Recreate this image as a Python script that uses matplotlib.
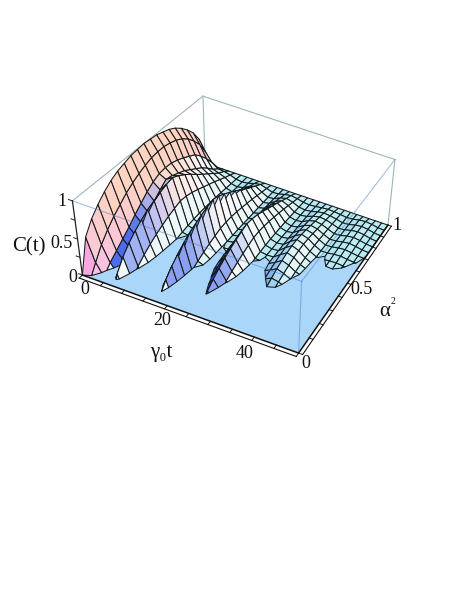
import numpy as np
import matplotlib
matplotlib.use("Agg")
import matplotlib.pyplot as plt
from mpl_toolkits.mplot3d.art3d import Poly3DCollection

plt.rcParams['font.family'] = ['Liberation Serif', 'DejaVu Serif']

t_values = np.arange(31) * 5 / 3
alpha2_values = np.arange(21) * 0.05

# C(t), one list per t, from alpha^2 = 0 up to 1.
# negative numbers stand for the dead part, the surface is cut there at C = 0
valley = [-.03,-.029,-.023,-.019,-.015,-.012,-.009,-.006,-.004,-.002,.001,.002,.004,.005,.004,.004,.004,.003,.002,.001,0]
C_t00 = [0,.44,.60,.71,.80,.87,.92,.95,.98,.99,1,.99,.98,.95,.92,.87,.80,.71,.60,.44,0]
C_t02 = [-.05,.12,.28,.40,.50,.58,.66,.72,.77,.81,.84,.85,.85,.83,.80,.75,.68,.58,.46,.28,0]
C_t03 = [-.2,-.05,.06,.14,.22,.30,.39,.47,.55,.61,.65,.66,.65,.62,.58,.53,.48,.39,.28,.15,0]
C_t05 = [-.3,-.19,-.07,.02,.12,.20,.29,.37,.45,.53,.60,.58,.54,.50,.44,.38,.32,.24,.15,.08,0]
C_t07 = [-.3,.06,.21,.32,.40,.47,.53,.57,.61,.64,.66,.61,.55,.48,.40,.33,.26,.19,.12,.07,0]
C_t08 = [-.3,-.19,-.07,.02,.096,.16,.214,.26,.30,.332,.36,.35,.325,.29,.25,.21,.173,.128,.084,.048,0]
C_t10 = [-.3,-.2,-.158,-.122,-.092,-.066,-.042,-.02,-.001,.017,.032,.042,.048,.049,.047,.043,.038,.03,.021,.013,0]
C_t12 = valley
C_t13 = [-.3,-.217,-.168,-.129,-.096,-.067,-.041,-.017,.004,.023,.04,.05,.056,.057,.054,.049,.043,.034,.024,.014,0]
C_t15 = [-.3,-.237,-.123,-.037,.035,.095,.147,.192,.231,.264,.292,.288,.271,.246,.214,.182,.15,.112,.074,.042,0]
C_t17 = [-.3,-.043,.098,.2,.28,.35,.41,.45,.49,.52,.545,.515,.465,.41,.35,.29,.23,.17,.11,.06,0]
C_t18 = [-.3,-.28,-.192,-.122,-.064,-.014,.03,.07,.104,.134,.16,.167,.164,.154,.138,.12,.10,.077,.052,.03,0]
C_t20 = valley
C_t22 = [-.2,-.158,-.126,-.1,-.077,-.057,-.039,-.023,-.008,.005,.017,.025,.03,.032,.032,.03,.026,.021,.015,.009,0]
C_t23 = [-.3,-.276,-.18,-.105,-.042,.011,.058,.099,.136,.166,.194,.199,.192,.178,.158,.137,.114,.086,.058,.033,0]
C_t25 = [-.3,-.19,-.07,.02,.096,.16,.214,.26,.30,.332,.36,.35,.325,.29,.25,.21,.173,.128,.084,.048,0]
C_t27 = [-.3,-.276,-.18,-.105,-.042,.011,.058,.099,.136,.166,.194,.199,.192,.178,.158,.137,.114,.086,.058,.033,0]
C_t28 = [-.2,-.158,-.126,-.1,-.077,-.057,-.039,-.023,-.008,.005,.017,.025,.03,.032,.032,.03,.026,.021,.015,.009,0]
C_t30 = valley
C_t32 = [-.1,-.093,-.075,-.061,-.048,-.037,-.027,-.018,-.01,-.002,.005,.011,.015,.019,.021,.021,.02,.017,.013,.008,0]
C_t33 = [-.3,-.261,-.195,-.143,-.099,-.06,-.03,-.005,.028,.052,.075,.09,.095,.095,.09,.08,.07,.055,.04,.022,0]
C_t35 = [-.3,-.282,-.194,-.126,-.069,-.03,-.004,.04,.085,.115,.14,.155,.16,.15,.135,.115,.095,.075,.055,.03,0]
C_t37 = [-.3,-.277,-.2,-.141,-.09,-.046,-.012,.02,.05,.08,.105,.118,.125,.12,.11,.095,.08,.065,.045,.025,0]
C_t38 = [-.3,-.2,-.158,-.122,-.092,-.066,-.042,-.02,-.001,.017,.032,.045,.05,.052,.05,.047,.042,.035,.026,.015,0]
C_t40 = [-.03,-.029,-.023,-.019,-.015,-.012,-.011,-.011,-.01,-.01,-.01,-.008,.001,.002,.003,.003,.003,.003,.002,.001,0]
C_t42 = [-.05,-.042,-.034,-.028,-.023,-.018,-.013,-.012,-.012,-.012,-.01,-.008,-.003,.003,.007,.009,.01,.01,.01,.008,0]
C_t43 = [-.15,-.116,-.093,-.075,-.059,-.045,-.032,-.021,-.012,-.01,-.006,-.002,.008,.018,.026,.03,.034,.036,.034,.028,0]
C_t45 = [-.2,-.148,-.118,-.094,-.073,-.054,-.038,-.023,-.018,-.012,-.008,-.002,.012,.024,.034,.042,.046,.048,.046,.038,0]
C_t47 = [-.15,-.116,-.093,-.075,-.059,-.045,-.032,-.021,-.016,-.012,-.008,-.004,.002,.01,.02,.028,.033,.036,.034,.027,0]
C_t48 = [-.04,-.03,-.028,-.026,-.024,-.022,-.02,-.018,-.016,-.014,-.012,-.01,-.004,.001,.006,.01,.012,.012,.011,.008,0]
C_t50 = [-.01,-.01,-.01,-.01,-.01,-.01,-.01,-.01,-.008,-.007,-.006,-.005,-.004,-.002,-.001,.001,.002,.002,.002,.001,0]

C = np.array([C_t00, C_t02, C_t03, C_t05, C_t07, C_t08, C_t10, C_t12, C_t13, C_t15, C_t17,
              C_t18, C_t20, C_t22, C_t23, C_t25, C_t27, C_t28, C_t30, C_t32, C_t33, C_t35,
              C_t37, C_t38, C_t40, C_t42, C_t43, C_t45, C_t47, C_t48, C_t50], float).T

# where the box corners sit in the picture, used to set up the view
corner_data = np.array([[0,0,0],[50,0,0],[50,1,0],[0,1,0],[0,0,1],[0,1,1],[50,0,1],[50,1,1]], float)
corner_px = np.array([[84,277],[297,356],[388,220],[205,164],[72,199],[202,95],[302,278],[396,165]], float)

W, H = 469, 607
fig = plt.figure(figsize=(W / 100, H / 100), dpi=100)
ax = fig.add_axes([0, 0, 1, 1], projection="3d", computed_zorder=False)
ax.set_axis_off()
fig.canvas.draw()
view = ax.transData.inverted().transform(np.c_[corner_px[:, 0], H - corner_px[:, 1]])

rows_a = []
rows_b = []
for (t, a, c), (u, v) in zip(corner_data, view):
    x = t / 50
    rows_a.append([x, a, c, 1, 0, 0, 0, 0, -u * x, -u * a, -u * c])
    rows_b.append(u)
    rows_a.append([0, 0, 0, 0, x, a, c, 1, -v * x, -v * a, -v * c])
    rows_b.append(v)
h = np.linalg.lstsq(np.array(rows_a), np.array(rows_b), rcond=None)[0]
M = np.array([h[:4], h[4:8], [0, 0, 0, -1], [h[8], h[9], h[10], 1]]) @ np.diag([1 / 50, 1, 1, 1])
ax.get_proj = lambda: M
ax.set_xlim(0, 50)
ax.set_ylim(0, 1)
ax.set_zlim(0, 1)


def clip_floor(points):
    # keep the part of a cell that lies above C = 0
    out = []
    for k in range(len(points)):
        p, q = np.array(points[k]), np.array(points[(k + 1) % len(points)])
        if p[2] >= 0:
            out.append(tuple(p))
        if (p[2] > 0 and q[2] < 0) or (p[2] < 0 and q[2] > 0):
            f = p[2] / (p[2] - q[2])
            r = p + f * (q - p)
            r[2] = 0
            out.append(tuple(r))
    return out


# height colours plus blue along the lobes, as the lights of the original did
height_stops = [0, .1, .25, .4, .6, .8, 1]
r_stops = [.72, .80, .95, 1.0, 1.0, 1.0, 1.0]
g_stops = [.92, .95, .98, .95, .87, .80, .76]
b_stops = [.95, .96, .98, .95, .82, .72, .68]
blue = np.array([.15, .28, .92])
pale_blue = np.array([.50, .74, .96])
magenta = np.array([.93, .35, .90])
pink = np.array([.98, .76, .88])
salmon = np.array([1.0, .83, .76])
white = np.array([.98, .98, .98])
lobe_t = [20 / 3, 50 / 3, 25, 35]
lobe_blue = [0.8, 1.0, 1.0, 0.5]
z_scale = 0.3

polys = []
faces = []
for i in range(len(alpha2_values) - 1):
    for j in range(len(t_values) - 1):
        corners = [(j, i), (j + 1, i), (j + 1, i + 1), (j, i + 1)]
        zs = [C[q, p] for p, q in corners]
        if max(zs) <= 0:
            continue
        poly = clip_floor([(t_values[p], alpha2_values[q], C[q, p]) for p, q in corners])
        if len(poly) < 3:
            continue
        polys.append(poly)
        zm = max(np.mean([z for _, _, z in poly]), 0)
        a_mid = alpha2_values[i] + 0.025
        gt = (zs[1] + zs[2] - zs[0] - zs[3]) / 2 / (5 / 3 / 50) * z_scale
        ga = (zs[2] + zs[3] - zs[0] - zs[1]) / 2 / 0.05 * z_scale
        norm = np.sqrt(gt**2 + ga**2 + 1)
        nx, ny = -gt / norm, -ga / norm
        if t_values[j] < 3:
            # the first hump goes from salmon to pink towards the low end
            w = np.clip((zm - 0.1) / 0.6, 0, 1)
            col = pink * (1 - w) + salmon * w
            w = np.clip((-ny - 0.6) / 0.35, 0, 1)
            col = col * (1 - w) + magenta * w
        else:
            col = np.array([np.interp(zm, height_stops, r_stops),
                            np.interp(zm, height_stops, g_stops),
                            np.interp(zm, height_stops, b_stops)])
            w = np.clip((nx - 0.2) / 0.4, 0, 1) * (1 - np.clip(zm / 0.4, 0, 1))
            col = col * (1 - w) + white * w
            w = np.clip(-nx / 0.5, 0, 1) * 0.6
            col = col * (1 - w) + pale_blue * w
            for tc, strength in zip(lobe_t, lobe_blue):
                d = t_values[j] - tc
                if -3.4 < d < 1:
                    w = strength * np.clip((0.5 - a_mid) / 0.25, 0, 1)
                    if d > -1:
                        w = w * 0.5
                    if a_mid > 0.1:
                        col = col * (1 - w) + blue * w
        faces.append(col)

floor = Poly3DCollection([[(0, 0, 0), (50, 0, 0), (50, 1, 0), (0, 1, 0)]],
                         facecolors="#a9d6f9", edgecolors="none", zorder=1)
ax.add_collection3d(floor, autolim=False)

box_col = "#9db6b6"
for p, q in [((0, 0, 1), (0, 1, 1)), ((0, 1, 1), (50, 1, 1)), ((50, 1, 1), (50, 1, 0)), ((0, 1, 1), (0, 1, 0))]:
    ax.plot(*zip(p, q), color=box_col, lw=0.8, zorder=2)

surface = Poly3DCollection(polys, facecolors=faces, edgecolors="#141a1a", linewidths=0.75, zorder=3)
ax.add_collection3d(surface, autolim=False)

for p, q in [((0, 0, 1), (50, 0, 1)), ((50, 0, 1), (50, 1, 1)), ((50, 0, 1), (50, 0, 0))]:
    ax.plot(*zip(p, q), color="#4f7fc8", alpha=0.5, lw=0.8, zorder=4)

# axis rails with ticks
ax.plot([0, 0], [0, 0], [0, 1], color="#222222", lw=0.9, zorder=5)
for c in np.arange(0, 1.01, 0.25):
    ax.plot([0, -0.9], [0, 0], [c, c], color="#222222", lw=0.7, zorder=5)
ax.plot([0, 50], [0, 0], [0, 0], color="#111111", lw=1.1, zorder=5)
ax.plot([0, 50], [-0.022, -0.022], [0, 0], color="#111111", lw=0.8, zorder=5)
for t in np.arange(0, 51, 5):
    ax.plot([t, t], [0, -0.022], [0, 0], color="#111111", lw=0.7, zorder=5)
ax.plot([50, 50], [0, 1], [0, 0], color="#111111", lw=1.1, zorder=5)
ax.plot([50.9, 50.9], [0, 1], [0, 0], color="#111111", lw=0.8, zorder=5)
for a in np.arange(0, 1.01, 0.1):
    ax.plot([50, 50.9], [a, a], [0, 0], color="#111111", lw=0.7, zorder=5)


def label(x, y, s, size=13):
    fig.text(x / W, 1 - y / H, s, fontsize=size, ha="center", va="center", color="#111111")


label(62, 201, "1")
label(61, 243, "0.5")
label(73, 277, "0")
label(29, 247, "C(t)", 15)
label(85, 289, "0")
label(162, 321, "20")
label(245, 353, "40")
label(161, 353, "γ₀t", 15)
label(306, 363, "0")
label(361, 289, "0.5")
label(397, 225, "1")
label(385, 311, "α", 15)
label(393, 301, "2", 7)

fig.savefig("out.png", dpi=100)
